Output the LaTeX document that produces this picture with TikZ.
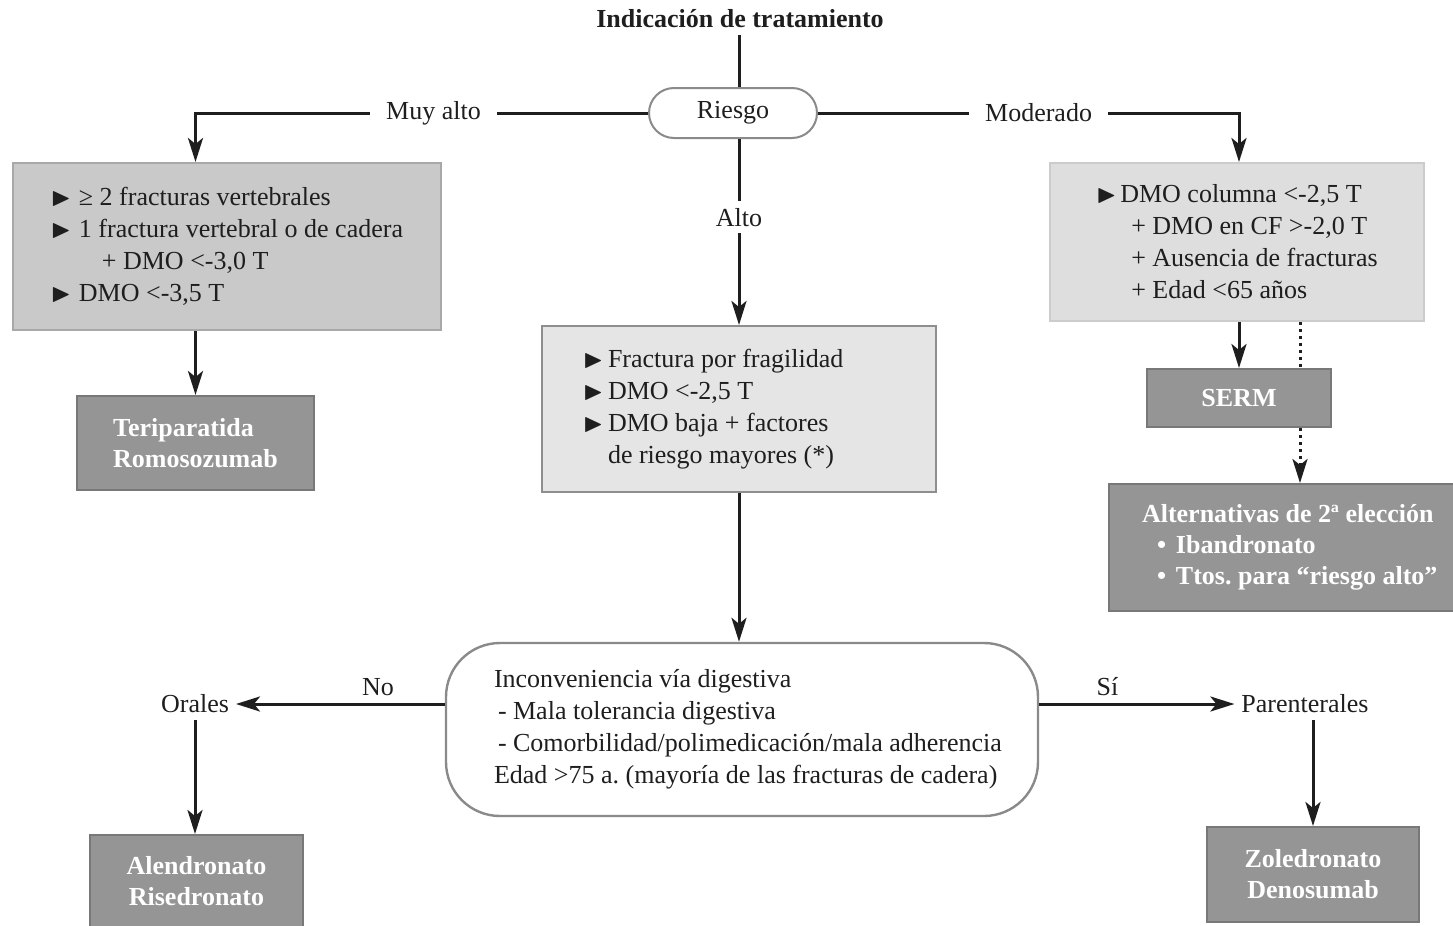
\documentclass[tikz,border=0pt]{standalone}
\usepackage{amssymb}
\usepackage{fontspec}
\setmainfont{Liberation Serif}
\usetikzlibrary{arrows.meta,positioning}
\definecolor{inkblack}{HTML}{1E1E1E}
\definecolor{darkfill}{HTML}{959595}
\definecolor{darkedge}{HTML}{787878}
\definecolor{midfill}{HTML}{C9C9C9}
\definecolor{midedge}{HTML}{A8A8A8}
\definecolor{lightfill}{HTML}{E5E5E5}
\definecolor{lightedge}{HTML}{8E8E8E}
\definecolor{palefill}{HTML}{DEDEDE}
\definecolor{paleedge}{HTML}{CCCCCC}
\definecolor{pilledge}{HTML}{8A8A8A}
\newcommand{\basefont}{\fontsize{13}{16}\selectfont}
\newcommand{\tri}[1][13pt]{\makebox[#1][l]{$\blacktriangleright$}}
\newcommand{\dotitem}{\hspace*{7.5pt}\makebox[9.5pt][l]{\textbullet}}
\frenchspacing

\begin{document}
\begin{tikzpicture}[
  x=0.5pt, y=-0.5pt,
  every node/.style={font=\basefont, text=inkblack},
  pill/.style={draw=pilledge, line width=1pt, rounded corners=12.5pt, minimum width=84pt, minimum height=25pt, fill=white},
  midbox/.style={draw=midedge, line width=1pt, fill=midfill, align=left, minimum width=214pt, minimum height=83.5pt},
  lightbox/.style={draw=lightedge, line width=1pt, fill=lightfill, align=flush left, minimum width=197pt, minimum height=83pt},
  palebox/.style={draw=paleedge, line width=1pt, fill=palefill, align=left, minimum width=187pt, minimum height=79pt},
  darkbox/.style={draw=darkedge, line width=1pt, fill=darkfill, text=white, font=\fontsize{13}{15.5}\selectfont\bfseries},
  roundbox/.style={draw=pilledge, line width=1.2pt, rounded corners=27pt, fill=white, align=flush left, minimum width=296pt, minimum height=86.5pt, text width=248pt, inner xsep=24pt},
  link/.style={line width=1.5pt, inkblack},
  arrow/.style={-{Stealth[length=12pt, width=7.5pt, inset=3pt]}, line width=1.5pt, inkblack},
  dotarrow/.style={dotted, line width=1.5pt, inkblack},
  lbl/.style={fill=white, inner xsep=8pt}
]
\useasboundingbox (0,0) rectangle (1453,926);

% top of the chart
\node[font=\basefont\bfseries] (title) at (740,19) {Indicación de tratamiento};
\node[pill] (riesgo) at (733,113) {Riesgo};

% three risk levels
\node[midbox] (muyalto) at (227,246.5) {\tri[14pt]≥ 2 fracturas vertebrales\\
  \tri[14pt]1 fractura vertebral o de cadera\\
  \hspace*{25.5pt}+ DMO <-3,0 T\\
  \tri[14pt]DMO <-3,5 T};
\node[lightbox, text width=156pt, inner xsep=20.5pt] (alto) at (739,409) {\tri[12.5pt]Fractura por fragilidad\\
  \tri[12.5pt]DMO <-2,5 T\\
  \tri[12.5pt]DMO baja + factores\\
  \hspace*{12.5pt}de riesgo mayores (*)};
\node[palebox] (moder) at (1237,242) {\tri[12pt]DMO columna <-2,5 T\\
  \hspace*{17.5pt}+ DMO en CF >-2,0 T\\
  \hspace*{17.5pt}+ Ausencia de fracturas\\
  \hspace*{17.5pt}+ Edad <65 años};

% treatments
\node[darkbox, align=left, minimum width=118.5pt, minimum height=47pt, below=32pt of muyalto, xshift=-15.75pt] (terip) {Teriparatida\\Romosozumab};
\node[darkbox, minimum width=92pt, minimum height=29pt, below=23pt of moder, xshift=1pt] (serm) {SERM};
\node[darkbox, align=flush left, text width=158pt, inner xsep=16.5pt, minimum height=63.5pt, below=27.5pt of serm, xshift=30.5pt] (alt) {Alternativas de 2ª elección\\
  \dotitem Ibandronato\\
  \dotitem Ttos. para ``riesgo alto''};

% digestive route
\node[roundbox] (via) at (742,729.5) {Inconveniencia vía digestiva\\
  \hspace*{2pt}- Mala tolerancia digestiva\\
  \mbox{\hspace*{2pt}- Comorbilidad/polimedicación/mala adherencia}\\
  \mbox{Edad >75 a. (mayoría de las fracturas de cadera)}};
\node (orales) at (195,704) {Orales};
\node (parent) at (1305,704) {Parenterales};
\node[darkbox, align=center, minimum width=106.5pt, minimum height=46pt] (alend) at (196.5,881) {Alendronato\\Risedronato};
\node[darkbox, align=center, minimum width=106pt, minimum height=47.5pt] (zol) at (1313,874.5) {Zoledronato\\Denosumab};

% connectors
\draw[link] (title.south -| alto.north) -- (riesgo.north -| alto.north);
\draw[arrow] (riesgo.west) -| node[lbl, pos=0.237] {Muy alto} (terip.north |- muyalto.north);
\draw[arrow] (riesgo.east) -| node[lbl, pos=0.262] {Moderado} (serm.north |- moder.north);
\draw[arrow] (riesgo.south -| alto.north) -- node[lbl, pos=0.42] {Alto} (alto.north);
\draw[arrow] (terip.north |- muyalto.south) -- (terip.north);
\draw[arrow] (serm.north |- moder.south) -- (serm.north);
\draw[dotarrow] (alt.north |- moder.south) -- (alt.north |- serm.north);
\draw[dotarrow, -{Stealth[length=12pt, width=7.5pt, inset=3pt]}] (alt.north |- serm.south) -- (alt.north);
\draw[arrow] (alto.south) -- (alto.south |- via.north);
\draw[arrow] (orales -| via.west) -- node[above, pos=0.32] {No} (orales.east);
\draw[arrow] (parent -| via.east) -- node[above, pos=0.35] {Sí} (parent.west);
\draw[arrow] (orales.south) -- (orales.south |- alend.north);
\draw[arrow] (zol.north |- parent.south) -- (zol.north);
\end{tikzpicture}
\end{document}
